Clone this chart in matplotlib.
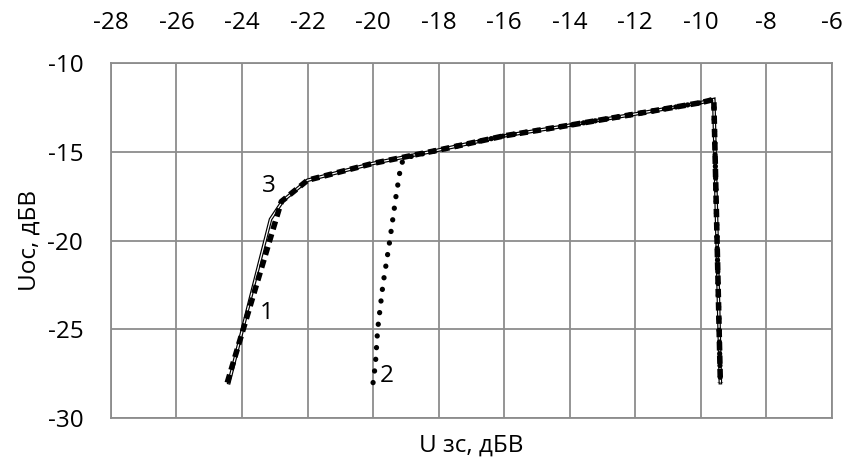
import matplotlib.pyplot as plt

plt.rcParams['font.family'] = ['Open Sans', 'DejaVu Sans']
plt.rcParams['axes.unicode_minus'] = False

# curve 1 (thick dashed)
x1 = [-24.45, -22.8, -22.0, -20.0, -18.0, -16.0, -14.0, -12.0, -10.0, -9.6, -9.4]
y1 = [-28.0, -17.8, -16.6, -15.65, -14.9, -14.1, -13.5, -12.87, -12.23, -12.05, -28.0]

# curve 2 (dotted)
x2 = [-20.0, -19.93, -19.86, -19.7, -19.49, -19.3, -19.15, -19.05, -18.0, -16.0, -14.0, -12.0, -10.0, -9.6, -9.4]
y2 = [-28.0, -27.0, -25.0, -22.5, -20.0, -17.5, -15.75, -15.35, -14.9, -14.1, -13.5, -12.87, -12.23, -12.05, -28.0]

# curve 3 (double line)
x3 = [-24.4, -23.13, -22.75, -22.0, -20.0, -18.0, -16.0, -14.0, -12.0, -10.0, -9.6, -9.4]
y3 = [-28.0, -18.8, -17.75, -16.6, -15.65, -14.9, -14.1, -13.5, -12.87, -12.23, -12.05, -28.0]

curve_labels = ["1", "2", "3"]
label_x = [-23.24, -19.58, -23.18]
label_y = [-24.1, -27.6, -16.9]

xticks = list(range(-28, -5, 2))
yticks = list(range(-30, -9, 5))

fig = plt.figure(figsize=(8.47, 4.57), dpi=100)
ax = fig.add_subplot(111)
fig.subplots_adjust(left=0.131, right=0.982, top=0.862, bottom=0.085)

grid_c = '#8c8c8c'

# double line: black body with a thin white core
ax.plot(x3, y3, color='black', lw=2.6, solid_joinstyle='miter', zorder=3)
ax.plot(x3, y3, color='white', lw=0.9, solid_joinstyle='miter', zorder=3.1)

ax.plot(x1, y1, color='black', lw=4.0, linestyle=(0, (1.5, 0.9)),
        dash_capstyle='butt', zorder=4)

ax.plot(x2, y2, color='black', lw=3.8, linestyle=(0, (0.02, 2.2)),
        dash_capstyle='round', zorder=5)

for t, lx, ly in zip(curve_labels, label_x, label_y):
    ax.text(lx, ly, t, fontsize=17.5, ha='center', va='center', zorder=6)

ax.set_xlim(-28, -6)
ax.set_ylim(-30, -10)
ax.set_xticks(xticks)
ax.set_yticks(yticks)
ax.xaxis.tick_top()
ax.xaxis.set_label_position('bottom')
ax.tick_params(axis='x', length=0, pad=20, labelsize=17.5)
ax.tick_params(axis='y', length=0, pad=20, labelsize=17.5)

ax.grid(True, color=grid_c, lw=1.3)
ax.set_axisbelow(True)
for s in ax.spines.values():
    s.set_color(grid_c)
    s.set_linewidth(1.3)

ax.set_xlabel("U зс, дБВ", fontsize=17.5, labelpad=11)
ax.set_ylabel("Uос, дБВ", fontsize=17.5, labelpad=4)

fig.savefig("out.png", dpi=100)
